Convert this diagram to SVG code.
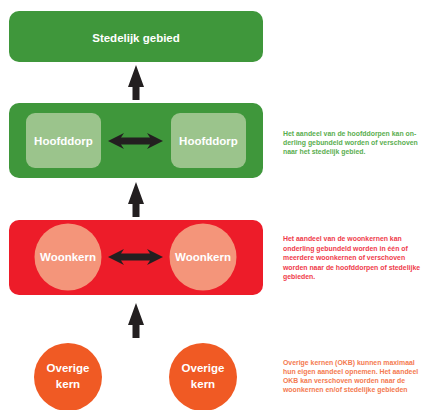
<svg xmlns="http://www.w3.org/2000/svg" width="426" height="410" viewBox="0 0 426 410">
<style>
.lbl{font-family:"Liberation Sans",Arial,sans-serif;font-weight:bold;fill:#fff;text-anchor:middle;font-size:11.5px}
.note{font-family:"Liberation Sans",Arial,sans-serif;font-weight:bold;font-size:6.9px}
.arr{fill:#231f20}
</style>
<defs>
<path id="up" d="M0,0 L8,22 L3.5,22 L3.5,35 L-3.5,35 L-3.5,22 L-8,22 Z"/>
<path id="dbl" d="M0,0 L16,-8 L13,-3.5 L42,-3.5 L39,-8 L55,0 L39,8 L42,3.5 L13,3.5 L16,8 Z"/>
</defs>
<rect width="426" height="410" fill="#fff"/>
<g id="stedelijk">
<rect x="9" y="11" width="254" height="51" rx="10" fill="#3f973b"/>
<text class="lbl" x="136" y="42">Stedelijk gebied</text>
</g>
<g id="hoofddorpen">
<rect x="9" y="103" width="254" height="75" rx="10" fill="#3f973b"/>
</g>
<g id="hoofddorp1">
<rect x="26" y="113" width="75" height="55" rx="9" fill="#9bc48c"/>
<text class="lbl" x="63.5" y="145">Hoofddorp</text>
</g>
<g id="hoofddorp2">
<rect x="171" y="113" width="75" height="55" rx="9" fill="#9bc48c"/>
<text class="lbl" x="208.5" y="145">Hoofddorp</text>
</g>
<g id="woonkernen">
<rect x="9" y="220" width="254" height="75" rx="10" fill="#ed1c29"/>
</g>
<g id="woonkern1">
<circle cx="68" cy="257" r="33.5" fill="#f4957a"/>
<text class="lbl" x="68" y="261">Woonkern</text>
</g>
<g id="woonkern2">
<circle cx="203" cy="257" r="33.5" fill="#f4957a"/>
<text class="lbl" x="203" y="261">Woonkern</text>
</g>
<g id="overige1">
<circle cx="68" cy="377" r="34" fill="#f05a24"/>
<text class="lbl" x="68" y="372">Overige</text>
<text class="lbl" x="68" y="388">kern</text>
</g>
<g id="overige2">
<circle cx="203" cy="377" r="34" fill="#f05a24"/>
<text class="lbl" x="203" y="372">Overige</text>
<text class="lbl" x="203" y="388">kern</text>
</g>
<g id="connectors" class="arr">
<use href="#up" x="136" y="65"/>
<use href="#up" x="136" y="182"/>
<use href="#up" x="136" y="303"/>
<use href="#dbl" x="108" y="141"/>
<use href="#dbl" x="108" y="257"/>
</g>
<g id="notes">
<text class="note" fill="#5aae50" x="283" y="136">Het aandeel van de hoofddorpen kan on-<tspan x="283" y="145">derling gebundeld worden of verschoven</tspan><tspan x="283" y="154">naar het stedelijk gebied.</tspan></text>
<text class="note" fill="#ef3b4a" x="283" y="241">Het aandeel van de woonkernen kan<tspan x="283" y="250.5">onderling gebundeld worden in één of</tspan><tspan x="283" y="260">meerdere woonkernen of verschoven</tspan><tspan x="283" y="269.5">worden naar de hoofddorpen of stedelijke</tspan><tspan x="283" y="279">gebieden.</tspan></text>
<text class="note" fill="#f47a50" x="283" y="365">Overige kernen (OKB) kunnen maximaal<tspan x="283" y="374">hun eigen aandeel opnemen. Het aandeel</tspan><tspan x="283" y="383">OKB kan verschoven worden naar de</tspan><tspan x="283" y="392">woonkernen en/of stedelijke gebieden</tspan></text>
</g>
</svg>
